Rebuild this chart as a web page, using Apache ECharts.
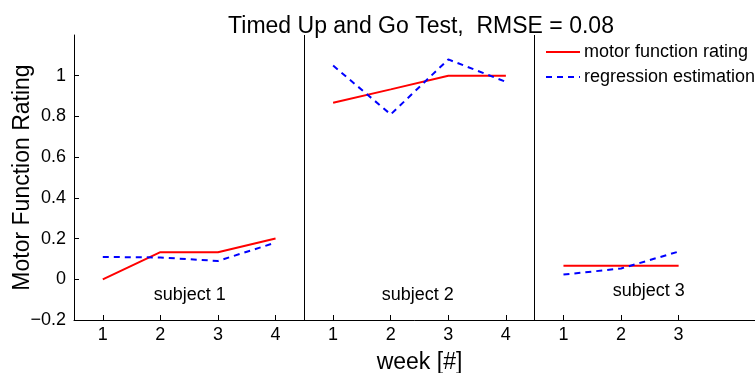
<!DOCTYPE html>
<html><head><meta charset="utf-8">
<script src="https://cdn.jsdelivr.net/npm/echarts@6/dist/echarts.min.js"></script>
<style>html,body{margin:0;padding:0;background:#fff}#c{width:755px;height:373px}</style>
</head><body><div id="c"></div>
<script>
// positions on the shared x axis (subject blocks side by side)
const subj1X = [1, 2, 3, 4];
const subj2X = [5, 6, 7, 8];
const subj3X = [9, 10, 11];
const weekLabels = ['1','2','3','4','1','2','3','4','1','2','3'];
const subj1Rating = [0, 0.133, 0.133, 0.2];
const subj1Regr   = [0.11, 0.107, 0.09, 0.18];
const subj2Rating = [0.867, 0.933, 1.0, 1.0];
const subj2Regr   = [1.05, 0.81, 1.08, 0.97];
const subj3Rating = [0.067, 0.067, 0.067];
const subj3Regr   = [0.023, 0.053, 0.136];
const separators = [4.5, 8.5];
const subjectNames = ['subject 1', 'subject 2', 'subject 3'];
const subjectLabelPos = [[2.51, -0.079], [6.47, -0.079], [10.48, -0.059]];
const yTicks = [-0.2, 0, 0.2, 0.4, 0.6, 0.8, 1];

function joinBlocks(xs, ys) {
  const out = [];
  xs.forEach((xArr, i) => {
    if (i > 0) out.push([null, null]);
    xArr.forEach((x, j) => out.push([x, ys[i][j]]));
  });
  return out;
}
const ratingData = joinBlocks([subj1X, subj2X, subj3X], [subj1Rating, subj2Rating, subj3Rating]);
const regrData = joinBlocks([subj1X, subj2X, subj3X], [subj1Regr, subj2Regr, subj3Regr]);
const allX = subj1X.concat(subj2X, subj3X);

const FONT = 'Liberation Sans, Arial, Helvetica, sans-serif';
const chart = echarts.init(document.getElementById('c'), null, {renderer: 'canvas'});
chart.setOption({
  animation: false,
  backgroundColor: '#fff',
  textStyle: {fontFamily: FONT},
  title: {
    text: 'Timed Up and Go Test,  RMSE = 0.08',
    left: 416, textAlign: 'center', top: 10,
    textStyle: {fontFamily: FONT, fontSize: 23, fontWeight: 'normal', color: '#000'}
  },
  legend: {
    orient: 'vertical', left: 540, top: 38, itemGap: 7, itemWidth: 34, itemHeight: 14,
    itemStyle: {opacity: 0},
    textStyle: {fontFamily: FONT, fontSize: 18, color: '#000', padding: [0, 0, 0, -1]},
    data: ['motor function rating', 'regression estimation']
  },
  grid: {left: 74, right: -10, top: 35, bottom: 53, containLabel: false, outerBoundsMode: 'none'},
  xAxis: {
    type: 'value', min: 0.5, max: 12.5,
    name: 'week [#]', nameLocation: 'middle', nameGap: 31, nameMoveOverlap: false,
    nameTextStyle: {fontFamily: FONT, fontSize: 23, color: '#000'},
    axisLine: {onZero: false, lineStyle: {color: '#000', width: 1}},
    axisTick: {inside: true, length: 5, customValues: allX, lineStyle: {color: '#000'}},
    axisLabel: {customValues: allX, fontFamily: FONT, fontSize: 18, color: '#000', margin: 6,
      formatter: v => weekLabels[Math.round(v) - 1] || ''},
    splitLine: {show: false}
  },
  yAxis: {
    type: 'value', min: -0.2, max: 1.2,
    name: 'Motor Function Rating', nameLocation: 'middle', nameGap: 40, nameMoveOverlap: false,
    nameTextStyle: {fontFamily: FONT, fontSize: 23, color: '#000'},
    axisLine: {show: true, onZero: false, lineStyle: {color: '#000', width: 1}},
    axisTick: {show: true, inside: true, length: 5, customValues: yTicks, lineStyle: {color: '#000'}},
    axisLabel: {customValues: yTicks, fontFamily: FONT, fontSize: 18, color: '#000', margin: 8,
      formatter: v => (Math.abs(v) < 1e-9 ? '0' : (v < 0 ? '\u2212' + String(+(-v).toFixed(1)) : String(+v.toFixed(1))))},
    splitLine: {show: false}
  },
  series: [
    {
      name: 'motor function rating', type: 'line', data: ratingData, symbol: 'none',
      connectNulls: false, color: '#ff0000',
      lineStyle: {color: '#ff0000', width: 2},
      markLine: {
        silent: true, symbol: 'none', label: {show: false},
        lineStyle: {color: '#000', width: 1, type: 'solid'},
        data: separators.map(x => ({xAxis: x}))
      }
    },
    {
      name: 'regression estimation', type: 'line', data: regrData, symbol: 'none',
      connectNulls: false, color: '#0000ff',
      lineStyle: {color: '#0000ff', width: 2, type: [6, 5]}
    },
    {
      type: 'scatter', symbolSize: 0, silent: true,
      itemStyle: {opacity: 1, color: '#000'},
      data: subjectLabelPos.map((p, i) => ({value: p, name: subjectNames[i]})),
      label: {show: true, position: 'inside', formatter: p => p.name,
        fontFamily: FONT, fontSize: 18, color: '#000', textBorderWidth: 0}
    }
  ]
});
</script></body></html>
